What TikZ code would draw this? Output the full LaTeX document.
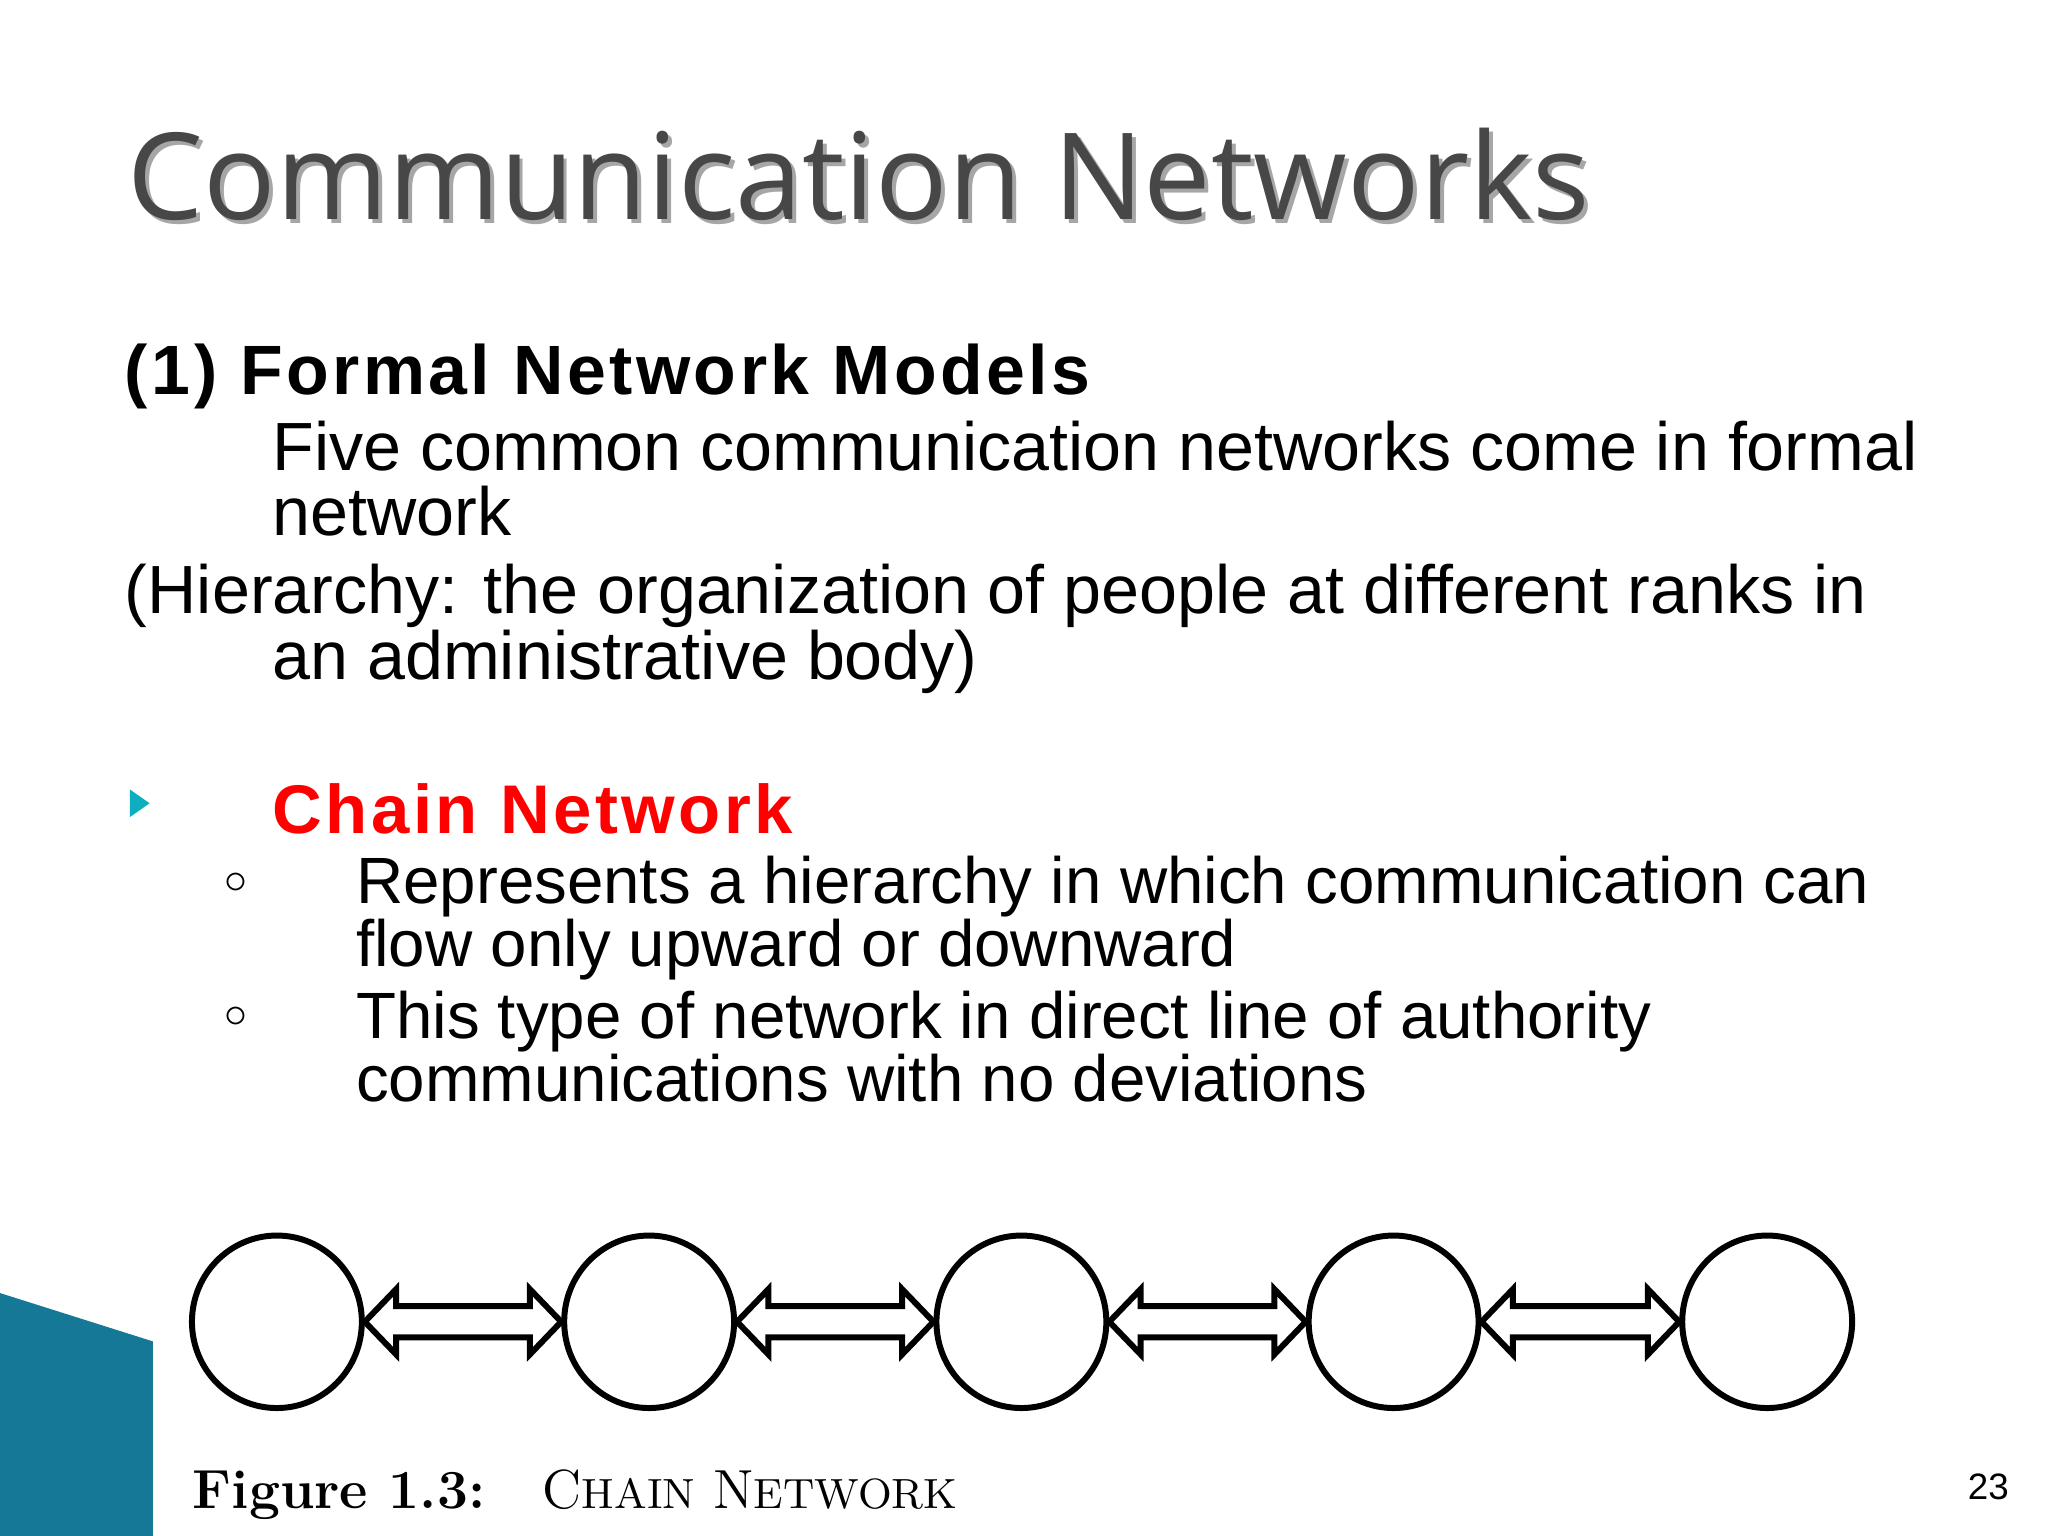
\documentclass[tikz,border=0pt]{standalone}
\usepackage{fontspec}
\setmainfont{Liberation Sans}
\newfontfamily\titlefont{Open Sans}
\newfontfamily\lmfont{Latin Modern Roman}
\usetikzlibrary{shapes.geometric,calc}
\definecolor{deco}{RGB}{20,120,150}
\begin{document}
\begin{tikzpicture}[x=0.01cm,y=-0.01cm,
  txt/.style={anchor=base west,inner sep=0pt,font=\fontsize{14.85pt}{16pt}\selectfont},
  stxt/.style={anchor=base west,inner sep=0pt,font=\fontsize{14.25pt}{16pt}\selectfont},
  circ/.style={ellipse,draw,line width=1.3pt,minimum width=1.3cm,minimum height=1.32cm,inner sep=0pt},
  darr/.style={draw,line width=1.3pt,line join=miter}]
\useasboundingbox (0,0) rectangle (1568,1176);
\fill[white] (0,0) rectangle (1568,1176);
% decoration
\fill[deco] (0,990) -- (117,1027) -- (117,1176) -- (0,1176) -- cycle;
% title
\node[anchor=base west,inner sep=0pt,text=black!35,font=\titlefont\fontsize{26.2pt}{30pt}\selectfont] at (100,171) {Communication Networks};
\node[anchor=base west,inner sep=0pt,text=black!72,font=\titlefont\fontsize{26.2pt}{30pt}\selectfont] (title) at (97,168) {Communication Networks};
\node[txt,font=\bfseries\fontsize{15.2pt}{18pt}\selectfont] (h1) at (95,302) {\addfontfeature{LetterSpace=5}(1) Formal Network Models};
\node[txt] (l1) at (208,360) {Five common communication networks come in formal};
\node[txt] (l2) at (208,410) {network};
\node[txt] (l3) at (95,470) {(Hierarchy: the organization of people at different ranks in};
\node[txt] (l4) at (208,520) {an administrative body)};
\node[isosceles triangle,fill=deco!60!cyan,inner sep=0pt,minimum width=0.14cm,minimum height=0.15cm,isosceles triangle apex angle=70] (bul) at (105,615) {};
\node[txt,text=red,font=\bfseries\fontsize{15pt}{17pt}\selectfont] (chain) at (208,638) {\addfontfeature{LetterSpace=5}Chain Network};
\node[font=\fontsize{10pt}{10pt}\selectfont,inner sep=0pt] (b1) at (181,676) {$\circ$};
\node[font=\fontsize{10pt}{10pt}\selectfont,inner sep=0pt] (b2) at (181,779) {$\circ$};
\node[stxt] (s1) at (272,692) {Represents a hierarchy in which communication can};
\node[stxt] (s2) at (272,740) {flow only upward or downward};
\node[stxt] (s3) at (272,795) {This type of network in direct line of authority};
\node[stxt] (s4) at (272,843) {communications with no deviations};
% chain
\foreach \i/\x in {1/212,2/497,3/782,4/1067,5/1353}{
  \node[circ] (c\i) at (\x,1012) {};
}
\foreach \a/\b in {1/2,2/3,3/4,4/5}{
  \draw[darr] (c\a.east) -- ($(c\a.east)+(24,-25)$) -- ($(c\a.east)+(24,-12)$)
    -- ($(c\b.west)+(-24,-12)$) -- ($(c\b.west)+(-24,-25)$) -- (c\b.west)
    -- ($(c\b.west)+(-24,25)$) -- ($(c\b.west)+(-24,12)$)
    -- ($(c\a.east)+(24,12)$) -- ($(c\a.east)+(24,25)$) -- cycle;
}
\node[anchor=base west,inner sep=0pt,font=\lmfont\bfseries\fontsize{12pt}{14pt}\selectfont] (fig) at (147,1155) {Figure 1.3:};
\node[anchor=base west,inner sep=0pt,font=\lmfont\fontsize{12pt}{14pt}\selectfont] (cap) at (415,1155) {C{\fontsize{9.2pt}{10pt}\selectfont HAIN} N{\fontsize{9.2pt}{10pt}\selectfont ETWORK}};
\node[anchor=base west,inner sep=0pt,font=\fontsize{8pt}{9pt}\selectfont] (pg) at (1506,1148) {23};
\end{tikzpicture}
\end{document}
